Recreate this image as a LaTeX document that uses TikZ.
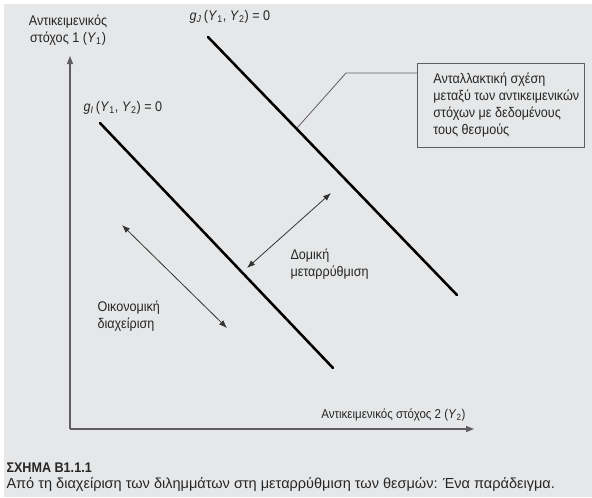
\documentclass[tikz,border=0pt]{standalone}
\usepackage{fontspec}
\setmainfont[FakeStretch=0.9]{Liberation Sans}
\newfontfamily\capfont{Liberation Sans}
\usetikzlibrary{arrows.meta}
\definecolor{bggray}{RGB}{230,231,232}
\definecolor{axisgray}{RGB}{95,95,97}
\newcommand{\Yv}[1]{\textit{Y}\textsubscript{#1}}
\tikzset{every picture/.style={line width=0.75pt}}

\begin{document}
\begin{tikzpicture}[x=0.75pt,y=0.75pt,yscale=-1,xscale=1,
  txt/.style={inner sep=0.75pt,font=\fontsize{10.5}{13}\selectfont,text=black!85},
  curveline/.style={line width=1.9pt,line cap=round},
  axisline/.style={color=axisgray,line width=0.9pt,-{Triangle[length=6pt,width=4.5pt]}},
  shiftarrow/.style={color=black!80,line width=0.6pt,{Latex[length=6pt,width=4.5pt]}-{Latex[length=6pt,width=4.5pt]}}]
\useasboundingbox (0,0) rectangle (592,497);
\fill[white] (0,0) rectangle (592,497);
\fill[bggray] (4,4) rectangle (592,497);

%Axes
\coordinate (o) at (70,429);
\coordinate (ytop) at (70,56);
\coordinate (xend) at (474,429);
\draw[axisline] (o) -- (ytop);
\draw[axisline] (o) -- (xend);

%Straight Lines
\coordinate (gj1) at (208,37);
\coordinate (gj2) at (457,295);
\coordinate (gi1) at (100,123);
\coordinate (gi2) at (333,368);
\draw[curveline] (gj1) -- (gj2);
\draw[curveline] (gi1) -- (gi2);

%Double arrows
\coordinate (oik1) at (122,225);
\coordinate (oik2) at (227,328);
\coordinate (dom1) at (247,268);
\coordinate (dom2) at (331,193);
\draw[shiftarrow] (oik1) -- (oik2);
\draw[shiftarrow] (dom1) -- (dom2);

%Shape: Rectangle
\node[txt,font=\fontsize{10.5}{12.75}\selectfont,draw=axisgray,line width=0.6pt,anchor=north west,inner xsep=0pt,inner ysep=6pt] (box) at (417,63)
  {\begin{tabular}{@{\hspace{12pt}}l@{\hspace{4pt}}}
   Ανταλλακτική σχέση\\
   μεταξύ των αντικειμενικών\\
   στόχων με δεδομένους\\
   τους θεσμούς
   \end{tabular}};
\coordinate (bend) at (346,73);
\coordinate (touch) at (297,128);
\draw[color=axisgray,line width=0.6pt] (box.west |- bend) -- (bend) -- (touch);

% Text Node
\node[txt,align=center] (ylab) at (68,30) {Αντικειμενικός\\στόχος 1 (\Yv1)};
% Text Node
\node[txt,anchor=west] (gjlab) at (188,17) {\textit{g}\textsubscript{\textit{J}}\,(\Yv1, \Yv2) = 0};
% Text Node
\node[txt,anchor=west] (gilab) at (82,108) {\textit{g}\textsubscript{\textit{I}}\,(\Yv1, \Yv2) = 0};
% Text Node
\node[txt,anchor=west,align=left] (oiklab) at (96,316) {Οικονομική\\διαχείριση};
% Text Node
\node[txt,anchor=west,align=left] (domlab) at (289,264) {Δομική\\μεταρρύθμιση};
% Text Node
\node[txt,anchor=east,font=\fontsize{9.6}{12}\selectfont] (xlab) at (467,415) {Αντικειμενικός στόχος 2 (\Yv2)};
% Text Node
\node[txt,anchor=base west,font=\fontsize{10.5}{12}\bfseries] (captitle) at (5,472) {ΣΧΗΜΑ B1.1.1};
% Text Node
\node[txt,anchor=base west,font=\capfont\fontsize{10.9}{12}\selectfont] (capline) at (5,488) {Από τη διαχείριση των διλημμάτων στη μεταρρύθμιση των θεσμών: Ένα παράδειγμα.};

\end{tikzpicture}
\end{document}
